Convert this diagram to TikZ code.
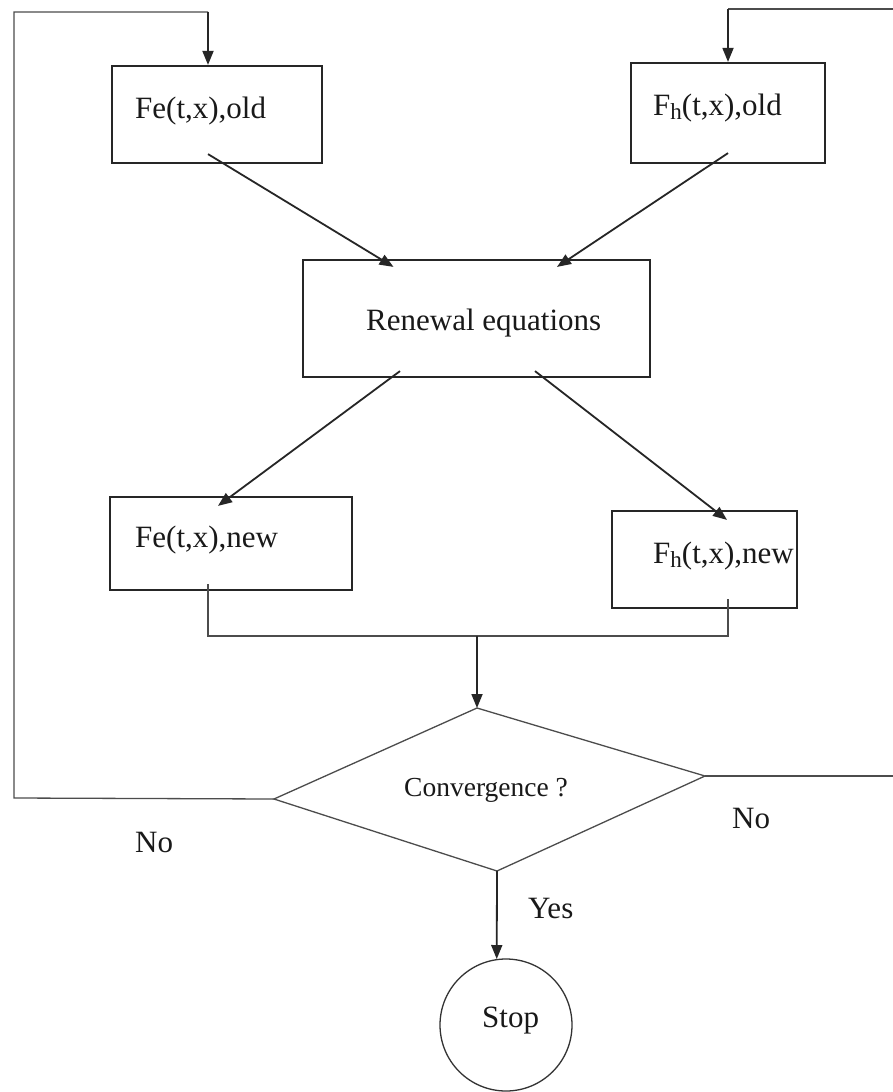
\documentclass[tikz,border=0pt]{standalone}
\usepackage{fontspec}
\setmainfont{Liberation Serif}
\usetikzlibrary{arrows.meta,calc}
\newcommand\subh{\raisebox{-4pt}{\fontsize{23}{23}\selectfont h}}
\begin{document}
\begin{tikzpicture}[x=1pt,y=-1pt,
  box/.style={draw=black!85, line width=2.2pt, rectangle, inner sep=0pt},
  lbl/.style={font=\fontsize{31}{36}\selectfont, inner sep=0pt, anchor=base west, text=black!90},
  arr/.style={draw=black!85, line width=1.8pt, -{Triangle[length=14pt,width=11pt]}},
  thinline/.style={draw=black!70, line width=1.3pt},
]
\useasboundingbox (0,0) rectangle (893,1092);
\fill[white] (0,0) rectangle (893,1092);

% boxes
\node[box, minimum width=210pt, minimum height=97pt] (feold) at (217,114.5) {};
\node[box, minimum width=194pt, minimum height=100pt] (fhold) at (728,113) {};
\node[box, minimum width=347pt, minimum height=117pt] (renewal) at (476.5,318.5) {};
\node[box, minimum width=242pt, minimum height=93pt] (fenew) at (231,543.5) {};
\node[box, minimum width=185pt, minimum height=97pt] (fhnew) at (704.5,559.5) {};

% labels
\node[lbl] (tfeold) at (135,118) {Fe(t,x),old};
\node[lbl] (tfhold) at (653,115) {F\subh(t,x),old};
\node[lbl] (trenewal) at (366,330) {Renewal equations};
\node[lbl] (tfenew) at (135,547) {Fe(t,x),new};
\node[lbl] (tfhnew) at (653,563) {F\subh(t,x),new};

% diamond
\coordinate (dT) at (477,708);
\coordinate (dR) at (705,776);
\coordinate (dB) at (497,871);
\coordinate (dL) at (274,799);
\draw[thinline] (dT) -- (dR) -- (dB) -- (dL) -- cycle;
\node[font=\fontsize{27.5}{32}\selectfont, inner sep=0pt, anchor=base west, text=black!90] (tconv) at (404,796) {Convergence ?};

% stop
\node[draw=black!80, line width=1.3pt, circle, minimum size=132pt, inner sep=0pt] (stop) at (506,1025) {};
\node[lbl] (tstop) at (482,1027) {Stop};

% other labels
\node[lbl] (noL) at (135,852) {No};
\node[lbl] (noR) at (732,828) {No};
\node[lbl] (yes) at (528,918) {Yes};

% arrows between boxes
\draw[arr] ([xshift=-9pt,yshift=10pt]feold.south) -- ([xshift=-83pt,yshift=-8pt]renewal.north);
\draw[arr] ([yshift=11pt]fhold.south) -- ([xshift=80.5pt,yshift=-8pt]renewal.north);
\draw[arr] ([xshift=-76.5pt,yshift=7pt]renewal.south) -- ([xshift=-13pt,yshift=-10pt]fenew.north);
\draw[arr] ([xshift=58.5pt,yshift=7pt]renewal.south) -- ([xshift=22.5pt,yshift=-10pt]fhnew.north);

% bracket joining new boxes
\coordinate (bj) at (477,636);
\draw[thinline] ([xshift=-23pt,yshift=7pt]fenew.south) -- ([xshift=-23pt]fenew.south |- bj)
  -- ([xshift=23.5pt]fhnew.south |- bj) -- ([xshift=23.5pt,yshift=10pt]fhnew.south);
\draw[arr] (bj) -- (dT);

% yes to stop
\draw[arr] (dB) -- (stop.98);

% feedback loops
\coordinate (lb) at (14,798);
\coordinate (lt) at (14,12);
\draw[thinline] (dL) -- (lb) -- (lt) -- ([xshift=-9pt]feold.north |- lt);
\draw[arr] ([xshift=-9pt]feold.north |- lt) -- ([xshift=-9pt]feold.north);
\coordinate (rb) at (893,776);
\coordinate (rt) at (893,9);
\draw[thinline] (dR) -- (rb);
\draw[thinline] (rt) -- (fhold.north |- rt);
\draw[arr] (fhold.north |- rt) -- (fhold.north);
\end{tikzpicture}
\end{document}
